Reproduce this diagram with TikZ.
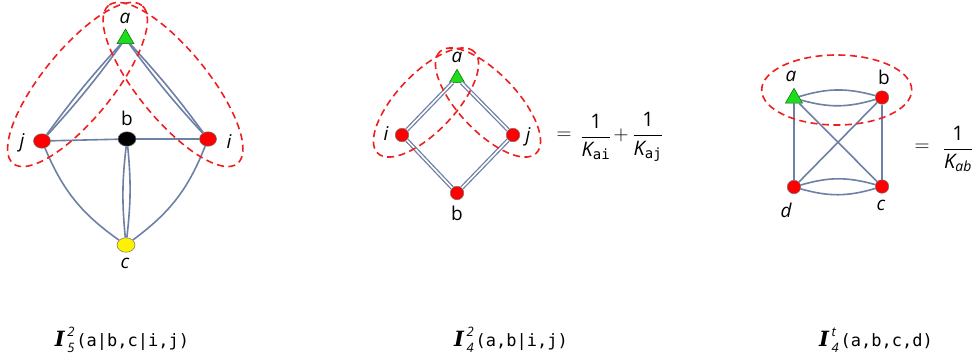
\documentclass[tikz,border=0pt]{standalone}
\usepackage{amsmath}
\usepackage{fontspec}
\setmainfont{Open Sans}
\newfontfamily\monofont{DejaVu Sans Mono}
\newfontfamily\Ifont{DejaVu Serif}
\usetikzlibrary{shapes.geometric}
\definecolor{edgec}{RGB}{110,128,165}
\definecolor{dashred}{RGB}{240,30,30}
\definecolor{tri}{RGB}{30,220,30}
\tikzset{
  edge/.style={draw=edgec, line width=1.6pt},
  edgetwo/.style={draw=edgec, line width=1.3pt, double=white, double distance=1.6pt},
  grp/.style={draw=dashred, line width=1.6pt, dash pattern=on 7pt off 4.5pt},
  rednode/.style={circle, fill=red, draw=black!55, line width=0.5pt, minimum size=13.5pt, inner sep=0pt},
  ovalnode/.style={ellipse, fill=#1, draw=black!55, line width=0.5pt, minimum width=17pt, minimum height=14.5pt, inner sep=0pt},
  trinode/.style={regular polygon, regular polygon sides=3, fill=tri, draw=green!40!black, line width=0.5pt, inner sep=0pt, minimum size=#1},
  lbl/.style={font=\fontsize{19}{22}\selectfont\itshape, inner sep=0pt},
  lblup/.style={font=\fontsize{19}{22}\selectfont, inner sep=0pt},
  eqtext/.style={font=\fontsize{20}{24}\selectfont, inner sep=0pt},
  caption/.style={font=\fontsize{21}{24}\selectfont, inner sep=0pt}
}
\newcommand{\bigI}{{\Ifont\bfseries\itshape I}\kern2.5pt}
\newcommand{\scripts}[2]{\makebox[0pt][l]{\raisebox{10.5pt}{\fontsize{13}{15}\selectfont\itshape #1}}\raisebox{-6pt}{\fontsize{13}{15}\selectfont\itshape #2}}
\newcommand{\argtext}[1]{\kern2pt{\monofont\fontsize{17}{20}\selectfont #1}}
\begin{document}
\begin{tikzpicture}[x=1pt,y=1pt]
\fill[white] (0,0) rectangle (976,-360);
\useasboundingbox (0,0) rectangle (976,-360);

% ---------- Diagram 1 ----------
\node[trinode=19.6pt] (a1) at (125.5,-38.8) {};
\node[ovalnode=red] (j1) at (42,-141) {};
\node[ovalnode=black, minimum width=18pt] (b1) at (127,-139) {};
\node[ovalnode=red] (i1) at (208,-139) {};
\node[ovalnode=yellow, minimum width=18pt] (c1) at (126,-245) {};
\node[lbl] (la1) at (125,-18) {a};
\node[lbl] (lj1) at (22,-143) {j};
\node[lblup] (lb1) at (127,-118) {b};
\node[lbl] (li1) at (229,-142) {i};
\node[lbl] (lc1) at (125,-263) {c};

\draw[edge] (a1) to[bend left=3] (j1);
\draw[edge] (a1) to[bend right=3] (j1);
\draw[edge] (a1) to[bend left=3] (i1);
\draw[edge] (a1) to[bend right=3] (i1);
\draw[edge] (j1) -- (b1);
\draw[edge] (b1) -- (i1);
\draw[edge] (b1) to[bend left=6] (c1);
\draw[edge] (b1) to[bend right=6] (c1);
\draw[edge] (j1) to[bend right=16] (c1);
\draw[edge] (i1) to[bend left=16] (c1);

\draw[grp, rotate around={50.8:(77.5,-84.5)}] (77.5,-84.5) ellipse [x radius=102pt, y radius=35pt];
\draw[grp, rotate around={129.2:(173,-84.5)}] (173,-84.5) ellipse [x radius=102pt, y radius=35pt];

% ---------- Diagram 2 ----------
\node[trinode=17.4pt] (a2) at (457,-78) {};
\node[rednode] (i2) at (402,-135) {};
\node[rednode] (j2) at (513,-135) {};
\node[rednode] (b2) at (457,-193) {};
\node[lbl] (la2) at (457,-57) {a};
\node[lbl] (li2) at (386,-134) {i};
\node[lbl] (lj2) at (528,-137) {j};
\node[lblup] (lb2) at (457,-213) {b};

\draw[edgetwo] (a2) -- (i2);
\draw[edgetwo] (a2) -- (j2);
\draw[edgetwo] (i2) -- (b2);
\draw[edgetwo] (j2) -- (b2);

\draw[grp, rotate around={46.5:(426,-102.5)}] (426,-102.5) ellipse [x radius=70pt, y radius=29pt];
\draw[grp, rotate around={133.5:(488,-102.5)}] (488,-102.5) ellipse [x radius=70pt, y radius=29pt];

\node[eqtext] (eq2) at (564,-136) {$=$};
\node[eqtext] (f2a) at (596,-137) {$\dfrac{\text{1}}{\text{\itshape K}_{\text{\monofont ai}}}$};
\node[eqtext] (pl2) at (621,-135) {$+$};
\node[eqtext] (f2b) at (648,-137) {$\dfrac{\text{1}}{\text{\itshape K}_{\text{\monofont aj}}}$};

% ---------- Diagram 3 ----------
\node[trinode=19.6pt] (a3) at (794,-98.1) {};
\node[rednode] (b3) at (882,-97.5) {};
\node[rednode] (d3) at (794,-187) {};
\node[rednode] (c3) at (882,-186.5) {};
\node[lbl] (la3) at (791,-76) {a};
\node[lblup] (lb3) at (884,-77) {b};
\node[lbl] (ld3) at (786,-210) {d};
\node[lbl] (lc3) at (881,-205) {c};

\draw[edge] (a3) to[bend left=16] (b3);
\draw[edge] (a3) to[bend right=16] (b3);
\draw[edge] (d3) to[bend left=16] (c3);
\draw[edge] (d3) to[bend right=16] (c3);
\draw[edge] (a3) -- (d3);
\draw[edge] (b3) -- (c3);
\draw[edge] (a3) -- (c3);
\draw[edge] (b3) -- (d3);

\draw[grp] (836.7,-90) ellipse [x radius=75pt, y radius=35pt];

\node[eqtext] (eq3) at (922,-148) {$=$};
\node[eqtext] (f3) at (958,-149) {$\dfrac{\text{1}}{\text{\itshape K}_{\text{\itshape ab}}}$};

% ---------- Captions ----------
\node[caption] (t1) at (122,-340) {\bigI\scripts{2}{5}\argtext{(a|b,c|i,j)}};
\node[caption] (t2) at (511,-340) {\bigI\scripts{2}{4}\argtext{(a,b|i,j)}};
\node[caption] (t3) at (876,-340) {\bigI\scripts{t}{4}\argtext{(a,b,c,d)}};
\end{tikzpicture}
\end{document}
